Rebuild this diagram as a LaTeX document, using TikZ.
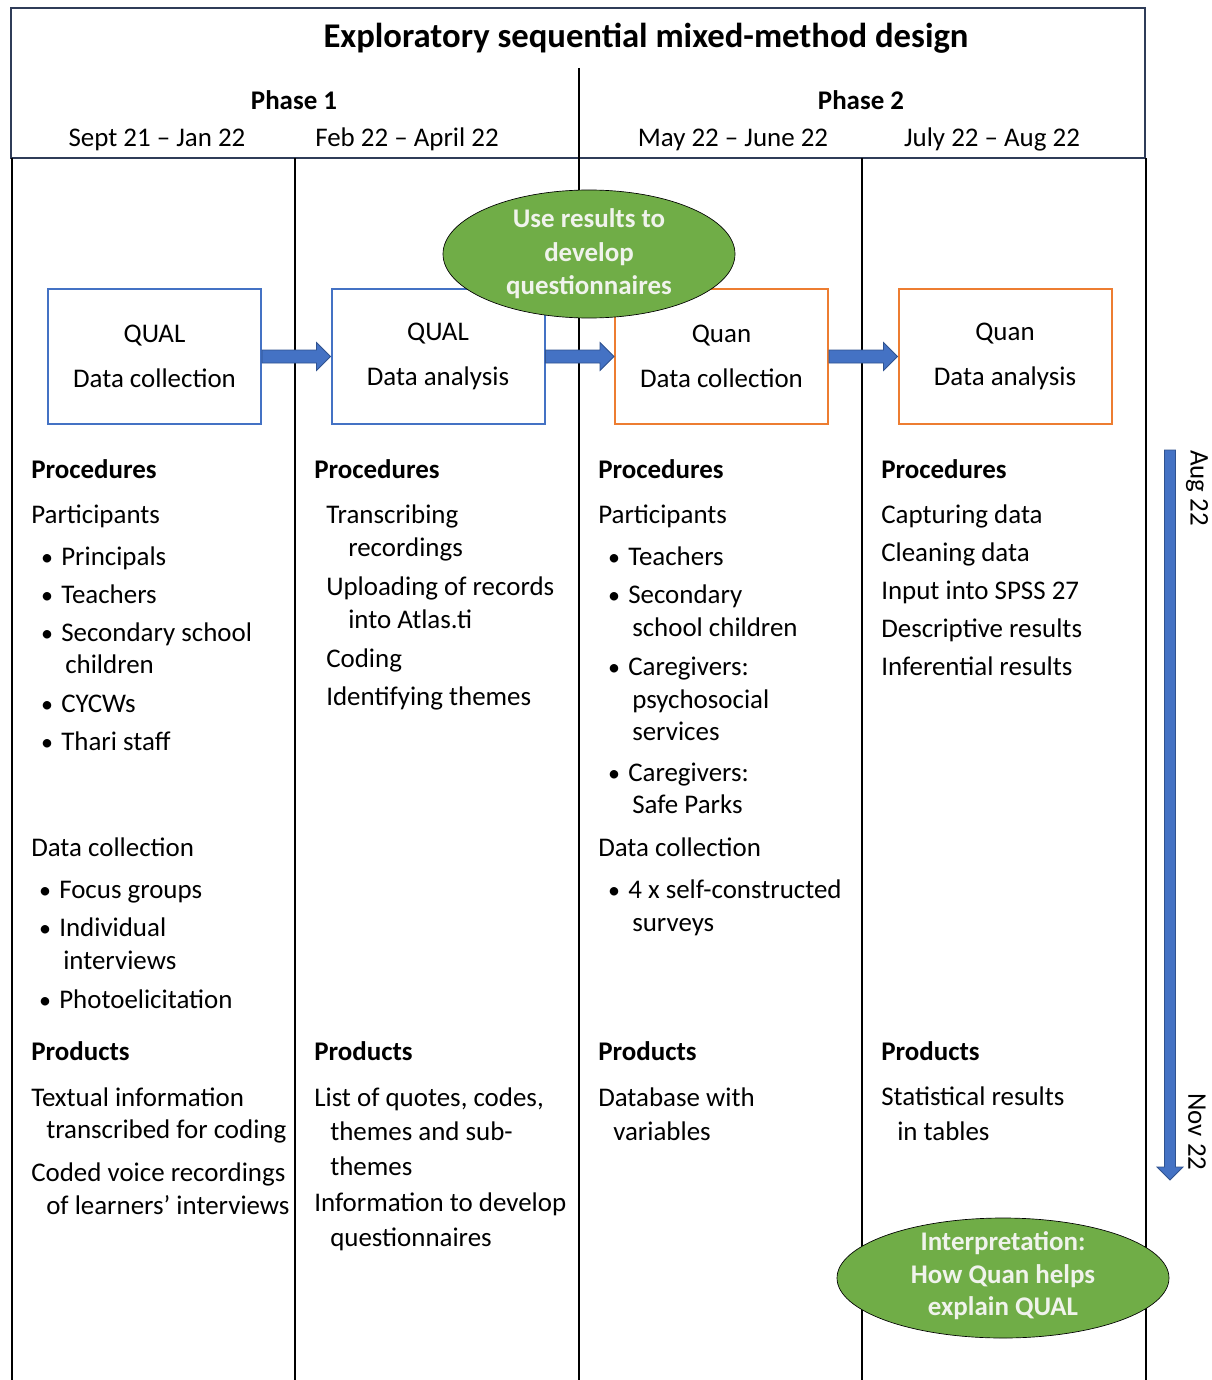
\documentclass[tikz,border=0pt]{standalone}
\usepackage{fontspec}
\setmainfont{Carlito}
\usepackage{tikz}
\usetikzlibrary{shapes.geometric, calc}

\definecolor{hdrline}{RGB}{47,60,88}
\definecolor{qualblue}{RGB}{68,114,196}
\definecolor{arrowedge}{RGB}{47,82,143}
\definecolor{quanorange}{RGB}{237,125,49}
\definecolor{resgreen}{RGB}{112,173,71}
\definecolor{restext}{RGB}{240,243,236}

\begin{document}
\begin{tikzpicture}[x=0.75pt,y=0.75pt,yscale=-1,xscale=1,
    body/.style={anchor=base west, inner sep=0pt, font=\fontsize{20.2pt}{23pt}\selectfont},
    headtxt/.style={body, font=\fontsize{20.2pt}{23pt}\selectfont\bfseries},
    bul/.style={anchor=base, inner sep=0pt, font=\fontsize{18pt}{23pt}\selectfont},
    stagebox/.style={draw, line width=1.5pt, fill=white, minimum width=159.75pt, minimum height=101.25pt, align=center, font=\fontsize{20.2pt}{33.75pt}\selectfont},
    blockarr/.style={draw=arrowedge, fill=qualblue, line width=0.6pt},
    resblob/.style={ellipse, draw=black, fill=resgreen, line width=0.5pt, inner sep=0pt},
    restxt/.style={inner sep=0pt, align=center, text=restext, font=\fontsize{20.2pt}{25pt}\selectfont\bfseries},
    sep/.style={line width=1.5pt}
]
    \useasboundingbox (0,0) rectangle (1211,1380);

    %Shape: Rectangle (header)
    \draw [draw=hdrline, line width=1.5pt] (11,8) rectangle (1145,158);
    %Straight Lines (column separators)
    \draw [sep] (579,68) -- (579,158);
    \draw [sep] (12,158) -- (12,1380);
    \draw [sep] (295,158) -- (295,1380);
    \draw [sep] (579,158) -- (579,1380);
    \draw [sep] (862,158) -- (862,1380);
    \draw [sep] (1146,158) -- (1146,1380);

    % Text Node
    \node (title) at (646,48) [anchor=base, inner sep=0pt, font=\fontsize{26pt}{28pt}\selectfont\bfseries] {Exploratory sequential mixed-method design};
    % Text Node
    \node (ph1) at (294,110) [headtxt, anchor=base] {Phase 1};
    \node (ph2) at (861,110) [headtxt, anchor=base] {Phase 2};
    % Text Node
    \node (dt1) at (157,147) [body, anchor=base] {Sept 21 – Jan 22};
    \node (dt2) at (407,147) [body, anchor=base] {Feb 22 – April 22};
    \node (dt3) at (733,147) [body, anchor=base] {May 22 – June 22};
    \node (dt4) at (992,147) [body, anchor=base] {July 22 – Aug 22};

    %Shape: Rectangle (stages)
    \node (qlcoll) at (154.5,356.5) [stagebox, draw=qualblue] {QUAL\\Data collection};
    \node (qlana) at (438,356.5) [stagebox, draw=qualblue] {QUAL\\Data analysis};
    \node (qncoll) at (721.5,356.5) [stagebox, draw=quanorange] {Quan\\Data collection};
    \node (qnana) at (1005,356.5) [stagebox, draw=quanorange] {Quan\\Data analysis};

    %Block Arrows
    \draw [blockarr] ($(qlcoll.east)+(0,-6.5)$) -- ($(qlana.west)+(-14,-6.5)$) -- ($(qlana.west)+(-14,-14)$) -- (qlana.west) -- ($(qlana.west)+(-14,14)$) -- ($(qlana.west)+(-14,6.5)$) -- ($(qlcoll.east)+(0,6.5)$) -- cycle;
    \draw [blockarr] ($(qlana.east)+(0,-6.5)$) -- ($(qncoll.west)+(-14,-6.5)$) -- ($(qncoll.west)+(-14,-14)$) -- (qncoll.west) -- ($(qncoll.west)+(-14,14)$) -- ($(qncoll.west)+(-14,6.5)$) -- ($(qlana.east)+(0,6.5)$) -- cycle;
    \draw [blockarr] ($(qncoll.east)+(0,-6.5)$) -- ($(qnana.west)+(-14,-6.5)$) -- ($(qnana.west)+(-14,-14)$) -- (qnana.west) -- ($(qnana.west)+(-14,14)$) -- ($(qnana.west)+(-14,6.5)$) -- ($(qncoll.east)+(0,6.5)$) -- cycle;

    %Shape: Ellipse
    \node (useres) at (589,254) [resblob, minimum width=219pt, minimum height=96pt] {};
    \node (useres-t) at (useres) [restxt] {Use results to\\develop\\questionnaires};
    %Shape: Ellipse
    \node (interp) at (1003,1278) [resblob, minimum width=249pt, minimum height=90pt] {};
    \node (interp-t) at ($(interp)+(0,-2)$) [restxt, font=\fontsize{20.2pt}{24.4pt}\selectfont\bfseries] {Interpretation:\\How Quan helps\\explain QUAL};

    %Timeline arrow
    \coordinate (tltop) at (1170,450);
    \coordinate (tlend) at (1170,1180);
    \draw [blockarr] ($(tltop)+(-5.5,0)$) -- ($(tlend)+(-5.5,-13)$) -- ($(tlend)+(-13,-13)$) -- (tlend) -- ($(tlend)+(13,-13)$) -- ($(tlend)+(5.5,-13)$) -- ($(tltop)+(5.5,0)$) -- cycle;
    \node (tlaug) at (1197,488) [rotate=-90, inner sep=0pt, font=\fontsize{20.2pt}{23pt}\selectfont] {Aug 22};
    \node (tlnov) at (1197,1132) [rotate=-90, inner sep=0pt, font=\fontsize{20.2pt}{23pt}\selectfont] {Nov 22};

    % Column 1
    \node (c1proc) at (31,478) [headtxt] {Procedures};
    \node (c1part) at (31,523) [body] {Participants};
    \node (c1b1) at (47,565) [bul] {•};  \node (c1i1) at (61,565) [body] {Principals};
    \node (c1b2) at (47,603) [bul] {•};  \node (c1i2) at (61,603) [body] {Teachers};
    \node (c1b3) at (47,641) [bul] {•};  \node (c1i3) at (61,641) [body] {Secondary school};
    \node (c1i3b) at (65,673) [body] {children};
    \node (c1b4) at (47,712) [bul] {•};  \node (c1i4) at (61,712) [body] {CYCWs};
    \node (c1b5) at (47,750) [bul] {•};  \node (c1i5) at (61,750) [body] {Thari staff};
    \node (c1dc) at (31,856) [body] {Data collection};
    \node (c1b6) at (45,898) [bul] {•};  \node (c1i6) at (59,898) [body] {Focus groups};
    \node (c1b7) at (45,936) [bul] {•};  \node (c1i7) at (59,936) [body] {Individual};
    \node (c1i7b) at (63,969) [body] {interviews};
    \node (c1b8) at (45,1008) [bul] {•}; \node (c1i8) at (59,1008) [body] {Photoelicitation};
    \node (c1prod) at (31,1060) [headtxt] {Products};
    \node (c1p1) at (31,1106) [body] {Textual information};
    \node (c1p1b) at (46,1138) [body] {transcribed for coding};
    \node (c1p2) at (31,1181) [body] {Coded voice recordings};
    \node (c1p2b) at (46,1214) [body] {of learners’ interviews};

    % Column 2
    \node (c2proc) at (314,478) [headtxt] {Procedures};
    \node (c2i1) at (326,523) [body] {Transcribing};
    \node (c2i1b) at (348,556) [body] {recordings};
    \node (c2i2) at (326,595) [body] {Uploading of records};
    \node (c2i2b) at (348,628) [body] {into Atlas.ti};
    \node (c2i3) at (326,667) [body] {Coding};
    \node (c2i4) at (326,705) [body] {Identifying themes};
    \node (c2prod) at (314,1060) [headtxt] {Products};
    \node (c2p1) at (314,1106) [body] {List of quotes, codes,};
    \node (c2p1b) at (330,1140) [body] {themes and sub-};
    \node (c2p1c) at (330,1175) [body] {themes};
    \node (c2p2) at (314,1211) [body] {Information to develop};
    \node (c2p2b) at (330,1246) [body] {questionnaires};

    % Column 3
    \node (c3proc) at (598,478) [headtxt] {Procedures};
    \node (c3part) at (598,523) [body] {Participants};
    \node (c3b1) at (614,565) [bul] {•};  \node (c3i1) at (628,565) [body] {Teachers};
    \node (c3b2) at (614,603) [bul] {•};  \node (c3i2) at (628,603) [body] {Secondary};
    \node (c3i2b) at (632,636) [body] {school children};
    \node (c3b3) at (614,675) [bul] {•};  \node (c3i3) at (628,675) [body] {Caregivers:};
    \node (c3i3b) at (632,708) [body] {psychosocial};
    \node (c3i3c) at (632,740) [body] {services};
    \node (c3b4) at (614,781) [bul] {•};  \node (c3i4) at (628,781) [body] {Caregivers:};
    \node (c3i4b) at (632,813) [body] {Safe Parks};
    \node (c3dc) at (598,856) [body] {Data collection};
    \node (c3b5) at (614,898) [bul] {•};  \node (c3i5) at (628,898) [body] {4 x self-constructed};
    \node (c3i5b) at (632,931) [body] {surveys};
    \node (c3prod) at (598,1060) [headtxt] {Products};
    \node (c3p1) at (598,1106) [body] {Database with};
    \node (c3p1b) at (613,1140) [body] {variables};

    % Column 4
    \node (c4proc) at (881,478) [headtxt] {Procedures};
    \node (c4i1) at (881,523) [body] {Capturing data};
    \node (c4i2) at (881,561) [body] {Cleaning data};
    \node (c4i3) at (881,599) [body] {Input into SPSS 27};
    \node (c4i4) at (881,637) [body] {Descriptive results};
    \node (c4i5) at (881,675) [body] {Inferential results};
    \node (c4prod) at (881,1060) [headtxt] {Products};
    \node (c4p1) at (881,1105) [body] {Statistical results};
    \node (c4p1b) at (897,1140) [body] {in tables};

\end{tikzpicture}
\end{document}
